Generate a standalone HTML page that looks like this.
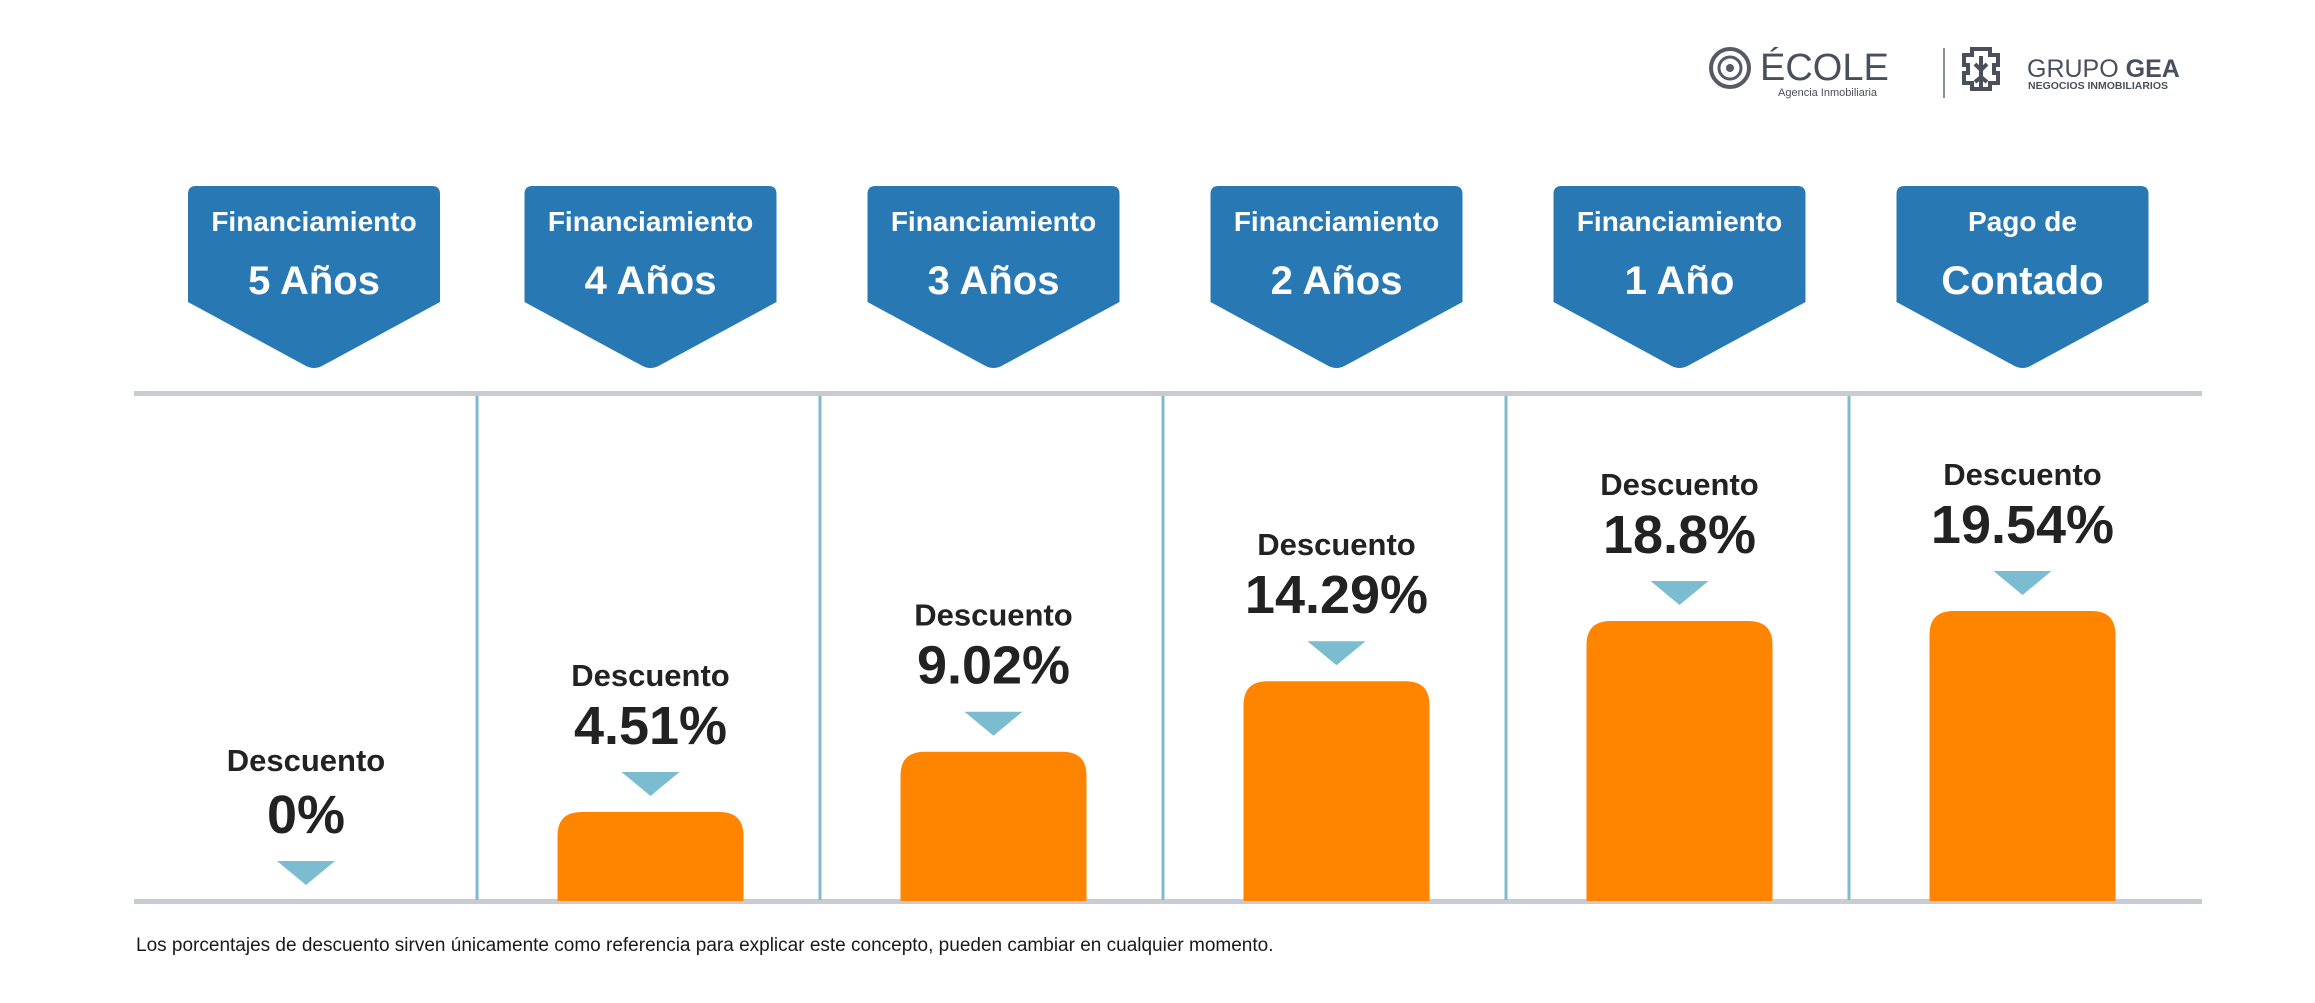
<!DOCTYPE html>
<html><head><meta charset="utf-8"><style>
body{margin:0;background:#fff;width:2315px;height:1003px;overflow:hidden}
svg{display:block}
text{font-family:"Liberation Sans",sans-serif}
</style></head><body>
<svg id="c" width="2315" height="1003" viewBox="0 0 2315 1003">
<g>
 <circle cx="1730" cy="68" r="19" fill="none" stroke="#555a66" stroke-width="4"/>
 <circle cx="1730" cy="68" r="11" fill="none" stroke="#555a66" stroke-width="3"/>
 <circle cx="1730" cy="68" r="4" fill="#555a66"/>
 <text x="1760" y="80" font-family="Liberation Serif" font-size="38" fill="#4a4f5c">ÉCOLE</text>
 <text x="1778" y="96" font-family="Liberation Mono" font-size="11" fill="#4a4f5c">Agencia Inmobiliaria</text>
 <rect x="1943" y="48" width="2" height="50" fill="#8a8e98"/>
 <g fill="none" stroke="#4a4f5c" stroke-width="4">
  <path d="M1972 49h18v6h8v10h-4v8h4v10h-8v6h-18v-6h-8v-10h4v-8h-4v-10h8z"/>
  <path d="M1981 56v34M1975 64l6 6 6-6M1975 82l6-5 6 5"/>
 </g>
 <text x="2027" y="77" font-size="25" fill="#4a4f5c">GRUPO <tspan font-weight="bold">GEA</tspan></text>
 <text x="2028" y="89" font-size="10.5" font-weight="bold" fill="#4a4f5c">NEGOCIOS INMOBILIARIOS</text>
</g>
<g id="grid"></g>
<g id="cols"></g>
<text x="136" y="951" font-size="19" fill="#1a1a1a">Los porcentajes de descuento sirven únicamente como referencia para explicar este concepto, pueden cambiar en cualquier momento.</text>
</svg>
<script>
const topLines = ["Financiamiento","Financiamiento","Financiamiento","Financiamiento","Financiamiento","Pago de"];
const bottomLines = ["5 Años","4 Años","3 Años","2 Años","1 Año","Contado"];
const discounts = [0, 4.51, 9.02, 14.29, 18.8, 19.54];
const valueLabels = ["0%","4.51%","9.02%","14.29%","18.8%","19.54%"];

const NS="http://www.w3.org/2000/svg";
const base=901, colW=343, x0=134, firstDiv=477;
function colCenter(i){ return i===0 ? 306 : firstDiv + colW*(i-1) + colW/2 + 2; }
function yScale(v){ return v<=0 ? base : base - (28.7 + 13.37*v); }
function mk(tag, attrs, parent){ const e=document.createElementNS(NS,tag); for(const k in attrs) e.setAttribute(k,attrs[k]); parent.appendChild(e); return e; }

const grid=document.getElementById('grid');
const tl=mk('rect',{x:x0,y:391,width:2068,height:5,fill:'#c9cbd4'},grid);


const bl=mk('rect',{x:x0,y:899,width:2068,height:5,fill:'#c9cbd4'},grid);


for(let i=0;i<5;i++){
  const d=mk('rect',{x:firstDiv+colW*i-1.5,y:396,width:3,height:504,fill:'#7fbad0'},grid);
  
  
}

const cols=document.getElementById('cols');
discounts.forEach((v,i)=>{
  const g=mk('g',{},cols);
  
  
  const bc = i===0 ? 314 : colCenter(i);
  const b=mk('path',{d:`M${bc-126} ${194} q0 -8 8 -8 h236 q8 0 8 8 v108 l-118 64 q-8 4 -16 0 l-118 -64 z`,fill:'#2878b4'},g);
  
  
  const t1=mk('text',{x:bc,y:231,'text-anchor':'middle','font-size':28,'font-weight':'bold',fill:'#fff'},g);
  t1.textContent=topLines[i];
  
  
  const t2=mk('text',{x:bc,y:294,'text-anchor':'middle','font-size':40,'font-weight':'bold',fill:'#fff'},g);
  t2.textContent=bottomLines[i];
  
  
  const cx=colCenter(i), T=yScale(v);
  if(v>0){
    const bar=mk('path',{d:`M${cx-93} ${base} V${T+24} q0 -24 24 -24 h138 q24 0 24 24 V${base} z`,fill:'#ff8500'},g);
    
    
  }
  const tri=mk('path',{d:`M${cx-29} ${T-40} h58 l-29 24 z`,fill:'#7bbcd0'},g);
  
  
  const pv=mk('text',{x:cx,y:T-68,'text-anchor':'middle','font-size':54,'font-weight':'bold',fill:'#222'},g);
  pv.textContent=valueLabels[i];
  
  
  const dl=mk('text',{x:cx,y:T-(i===0?130:126),'text-anchor':'middle','font-size':31,'font-weight':'bold',fill:'#222'},g);
  dl.textContent='Descuento';
  
  
});
</script>
</body></html>
